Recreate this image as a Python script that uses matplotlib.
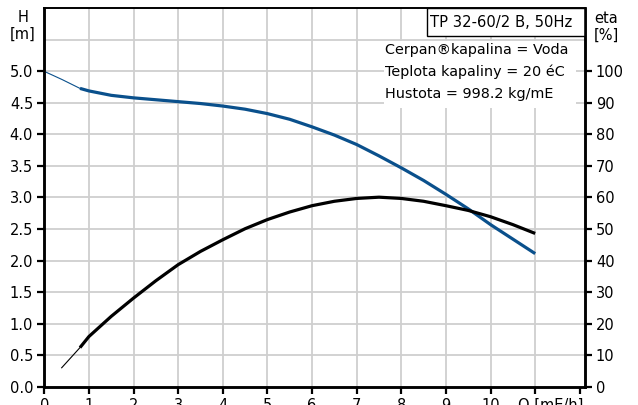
import matplotlib
matplotlib.use("Agg")
import matplotlib.pyplot as plt
from matplotlib.patches import Rectangle
from matplotlib.transforms import ScaledTranslation

# pump curve TP 32-60/2 B, 50Hz
Q_H = [0, 0.4, 0.8, 1, 1.5, 2, 2.5, 3, 3.5, 4, 4.5, 5, 5.5, 6, 6.5, 7, 7.5, 8, 8.5,
       9, 9.5, 10, 10.5, 11]
H = [5.00, 4.87, 4.73, 4.69, 4.62, 4.58, 4.55, 4.52, 4.49, 4.45, 4.40, 4.33, 4.24,
     4.12, 3.99, 3.84, 3.66, 3.47, 3.27, 3.05, 2.82, 2.57, 2.34, 2.11]
Q_ETA = [0.39, 0.8, 1, 1.5, 2, 2.5, 3, 3.5, 4, 4.5, 5, 5.5, 6, 6.5, 7, 7.5, 8, 8.5,
         9, 9.5, 10, 10.5, 11]
ETA = [6.0, 12.4, 15.9, 22.3, 28.1, 33.6, 38.7, 42.9, 46.6, 50.1, 53.0, 55.4, 57.4,
       58.8, 59.7, 60.1, 59.7, 58.8, 57.4, 55.9, 53.9, 51.4, 48.6]
Q_MIN = 0.8  # start of the recommended range (thick line)

X_TICKS = list(range(13))
X_LABELS = [str(i) for i in range(11)] + ["Q [mE/h]", ""]
H_TICKS = [0.0, 0.5, 1.0, 1.5, 2.0, 2.5, 3.0, 3.5, 4.0, 4.5, 5.0]
ETA_TICKS = [0, 10, 20, 30, 40, 50, 60, 70, 80, 90, 100]

TITLE = "TP 32-60/2 B, 50Hz"
INFO = ["Cerpan®kapalina = Voda", "Teplota kapaliny = 20 éC", "Hustota = 998.2 kg/mE"]

BLUE = "#0a508c"
GRID = "#cfcfcf"

fig = plt.figure(figsize=(6.38, 4.05), dpi=100)
ax = fig.add_axes([0.0694, 0.0452, 0.8471, 0.9343])
ax2 = ax.twinx()

i0 = Q_H.index(Q_MIN)
ax.plot(Q_H[:i0 + 1], H[:i0 + 1], color=BLUE, lw=0.8, zorder=3)
ax.plot(Q_H[i0:], H[i0:], color=BLUE, lw=2.3, solid_capstyle="butt", zorder=3)
j0 = Q_ETA.index(Q_MIN)
ax2.plot(Q_ETA[:j0 + 1], ETA[:j0 + 1], color="black", lw=0.8, zorder=3)
ax2.plot(Q_ETA[j0:], ETA[j0:], color="black", lw=2.3, solid_capstyle="butt", zorder=3)

ax.set_xlim(0, 12.11)
ax.set_ylim(0, 6.0)
ax2.set_ylim(0, 120)

# grid: every integer Q and every 0.5 m
for q in range(1, 12):
    ax.axvline(q, color=GRID, lw=1.3, zorder=0.5)
for h in [0.5 * k for k in range(1, 12)]:
    ax.axhline(h, color=GRID, lw=1.3, zorder=0.5)

ax.set_xticks(X_TICKS)
ax.set_xticklabels(X_LABELS)
ax.set_yticks(H_TICKS)
ax.set_yticklabels([f"{v:.1f}" for v in H_TICKS])
ax2.set_yticks(ETA_TICKS)
ax.tick_params(axis="both", direction="out", length=5, width=1.6, labelsize=10.5,
               pad=3, colors="black")
ax2.tick_params(axis="y", direction="out", length=5, width=1.6, labelsize=10.5, pad=3)

# the axis name sits on tick 11, shifted right of it
qlab = ax.get_xticklabels()[11]
qlab.set_ha("left")
qlab.set_transform(qlab.get_transform() + ScaledTranslation(-0.17, 0, fig.dpi_scale_trans))

for a in (ax, ax2):
    for side in ("left", "bottom", "right"):
        a.spines[side].set_linewidth(1.8)
    a.spines["top"].set_linewidth(1.2)

# title box in the upper right corner
ax.add_patch(Rectangle((0.7076, 0.9276), 0.2924, 0.0724, transform=ax.transAxes,
                       facecolor="white", edgecolor="black", lw=1.0, zorder=4))
ax.text(0.7137, 0.9638, TITLE, transform=ax.transAxes, fontsize=10.6, va="center",
        ha="left", zorder=5)

# liquid info block with a white background
ax.add_patch(Rectangle((0.628, 0.7355), 0.355, 0.178, transform=ax.transAxes,
                       facecolor="white", edgecolor="none", zorder=4))
for k, line in enumerate(INFO):
    ax.text(0.6305, 0.8898 - k * 0.0581, line, transform=ax.transAxes, fontsize=10.4,
            va="center", ha="left", zorder=5)

fig.text(23 / 638, 1 - 26 / 405, "H\n[m]", ha="center", va="center", fontsize=10.5,
         linespacing=1.1)
fig.text(606 / 638, 1 - 27 / 405, "eta\n[%]", ha="center", va="center", fontsize=10.5,
         linespacing=1.1)

fig.savefig("out.png", dpi=100)
